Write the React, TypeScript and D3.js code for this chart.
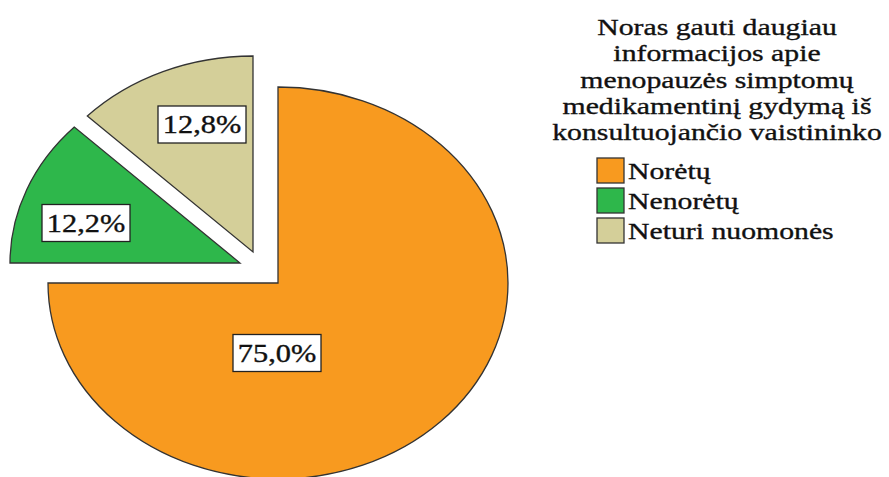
import React from "react";
import * as d3 from "d3";

const categories = ["Norėtų", "Nenorėtų", "Neturi nuomonės"];
const values = [75.0, 12.2, 12.8];
const valueLabels = ["75,0%", "12,2%", "12,8%"];
const colors = ["#f89a1f", "#2eb74b", "#d4cf99"];
const titleLines = [
  "Noras gauti daugiau",
  "informacijos apie",
  "menopauzės simptomų",
  "medikamentinį gydymą iš",
  "konsultuojančio vaistininko",
];

// layout (styles)
const W = 889;
const H = 477;
const CX = 278;
const CY = 283;
const RX = 230;
const RY = 196;
const explode = [
  [0, 0],
  [-38, -20],
  [-25, -31],
];
const labelOffset = [
  [-1, 70],
  [-154, -40],
  [-51, -127.5],
];
const SX = 1.24;
const FONT = "Liberation Serif, Times New Roman, serif";
const textStyle = {
  fontFamily: FONT,
  fontSize: 24,
  fill: "#111",
  stroke: "#111",
  strokeWidth: 0.35,
} as const;

export default function App() {
  const pie = d3.pie<number>().sort(null).value((d) => d)(values);
  const arc = d3.arc<d3.PieArcDatum<number>>().innerRadius(0).outerRadius(RY);
  const kx = RX / RY;

  return (
    <svg
      width={W}
      height={H}
      style={{ position: "absolute", left: 0, top: 0, background: "#fff" }}
    >
      {pie.map((p, i) => (
        <g
          key={"s" + i}
          transform={`translate(${CX + explode[i][0]},${CY + explode[i][1]}) scale(${kx},1)`}
        >
          <path
            d={arc(p) || ""}
            fill={colors[i]}
            stroke="#333"
            strokeWidth={1.3}
            vectorEffect="non-scaling-stroke"
            strokeLinejoin="miter"
          />
        </g>
      ))}
      {pie.map((p, i) => {
        const x = CX + explode[i][0] + labelOffset[i][0];
        const y = CY + explode[i][1] + labelOffset[i][1];
        return (
          <g key={"l" + i} transform={`translate(${x},${y})`}>
            <rect
              x={-44}
              y={-18.5}
              width={88}
              height={37}
              fill="#fff"
              stroke="#222"
              strokeWidth={1.3}
            />
            <text
              transform={`translate(0,8.5) scale(${SX},1)`}
              textAnchor="middle"
              style={{ ...textStyle, fontSize: 24.5 }}
            >
              {valueLabels[i]}
            </text>
          </g>
        );
      })}
      {titleLines.map((t, i) => (
        <text
          key={"t" + i}
          transform={`translate(717,${35 + i * 26.25}) scale(${SX},1)`}
          textAnchor="middle"
          style={textStyle}
        >
          {t}
        </text>
      ))}
      {categories.map((c, i) => (
        <g key={"g" + i}>
          <rect
            x={597}
            y={158 + i * 30}
            width={27}
            height={25}
            fill={colors[i]}
            stroke="#333"
            strokeWidth={1.3}
          />
          <text
            transform={`translate(628,${179 + i * 30}) scale(${SX},1)`}
            style={textStyle}
          >
            {c}
          </text>
        </g>
      ))}
    </svg>
  );
}
